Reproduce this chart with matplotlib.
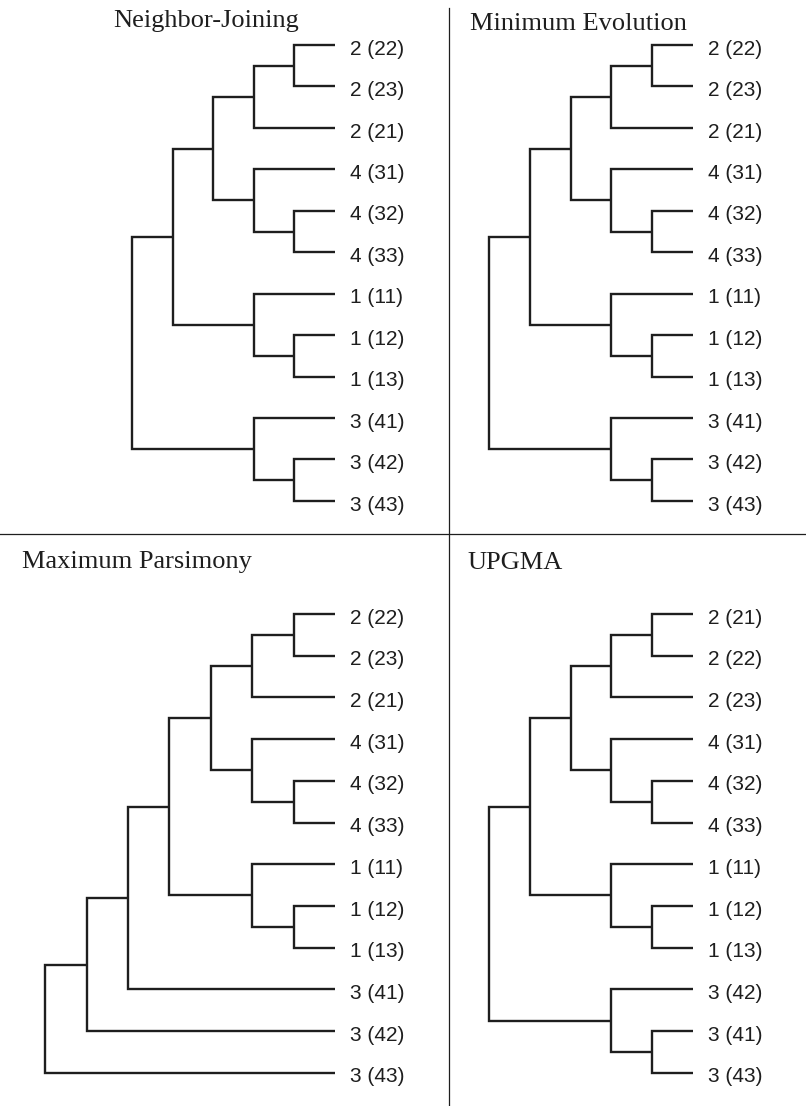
#%% librerias
import numpy as np
import matplotlib.pyplot as plt
from matplotlib.lines import Line2D

#%% arboles (topologia)
clado2 = (("2 (22)", "2 (23)"), "2 (21)")
clado4 = ("4 (31)", ("4 (32)", "4 (33)"))
clado1 = ("1 (11)", ("1 (12)", "1 (13)"))
clado3 = ("3 (41)", ("3 (42)", "3 (43)"))

arbol_nj = (((clado2, clado4), clado1), clado3)
arbol_me = (((clado2, clado4), clado1), clado3)
arbol_mp = (((((clado2, clado4), clado1), "3 (41)"), "3 (42)"), "3 (43)")
clado2_u = (("2 (21)", "2 (22)"), "2 (23)")
clado3_u = ("3 (42)", ("3 (41)", "3 (43)"))
arbol_upgma = (((clado2_u, clado4), clado1), clado3_u)

titulos = ['Neighbor-Joining', 'Minimum Evolution', 'Maximum Parsimony', 'UPGMA']
arboles = [arbol_nj, arbol_me, arbol_mp, arbol_upgma]

W, H = 806, 1106
color = '#1e1e1e'


#%% layout tipo cladograma
def layout(nodo, hojas, ramas):
    """devuelve (altura, y) del nodo; junta hojas y codos"""
    if isinstance(nodo, str):
        y = len(hojas)
        hojas.append((nodo, y))
        return 0, y
    hijos = [layout(h, hojas, ramas) for h in nodo]
    alt = max(a for a, _ in hijos) + 1
    y = np.mean([yy for _, yy in hijos])
    (a1, y1), (a2, y2) = hijos
    ramas.append(([-a1, -alt, -alt, -a2], [y1, y1, y2, y2]))
    return alt, y


#%% figura
fig = plt.figure(figsize=(W / 100, H / 100), dpi=100)

# paneles en pixeles: (x0, x1, y0, y1), punta x, paso x, y hoja 0, paso y
paneles = [
    (0, 449, 0, 534, 335, 40.6, 45, 41.45),
    (449, 806, 0, 534, 693, 40.8, 45, 41.45),
    (0, 449, 534, 1106, 335, 41.4, 614, 41.7),
    (449, 806, 534, 1106, 693, 40.8, 614, 41.7),
]
pos_titulo = [(113, 27), (470, 30), (22, 568), (467, 569)]

for arbol, titulo, (x0, x1, y0, y1, xt, dx, yh, dy), (tx, ty) in zip(
        arboles, titulos, paneles, pos_titulo):
    ax = fig.add_axes([x0 / W, 1 - y1 / H, (x1 - x0) / W, (y1 - y0) / H])
    ax.set_xlim((x0 - xt) / dx, (x1 - xt) / dx)
    ax.set_ylim((y1 - yh) / dy, (y0 - yh) / dy)
    ax.axis('off')

    hojas, ramas = [], []
    layout(arbol, hojas, ramas)
    for xs, ys in ramas:
        ax.plot(xs, ys, color=color, lw=1.7, solid_joinstyle='miter',
                solid_capstyle='butt')
    for nombre, y in hojas:
        ax.annotate(nombre, (0, y), xytext=(11, -3), textcoords='offset points',
                    ha='left', va='center', fontsize=15,
                    family='Liberation Sans', color=color)

    fig.text(tx / W, 1 - ty / H, titulo, ha='left', va='baseline',
             fontsize=19, family='Liberation Serif', color=color)

# divisiones
fig.add_artist(Line2D([449 / W, 449 / W], [0, 1 - 8 / H], color=color, lw=0.9))
fig.add_artist(Line2D([0, 1], [1 - 534 / H, 1 - 534 / H], color=color, lw=0.9))

plt.savefig('out.png', dpi=100)
